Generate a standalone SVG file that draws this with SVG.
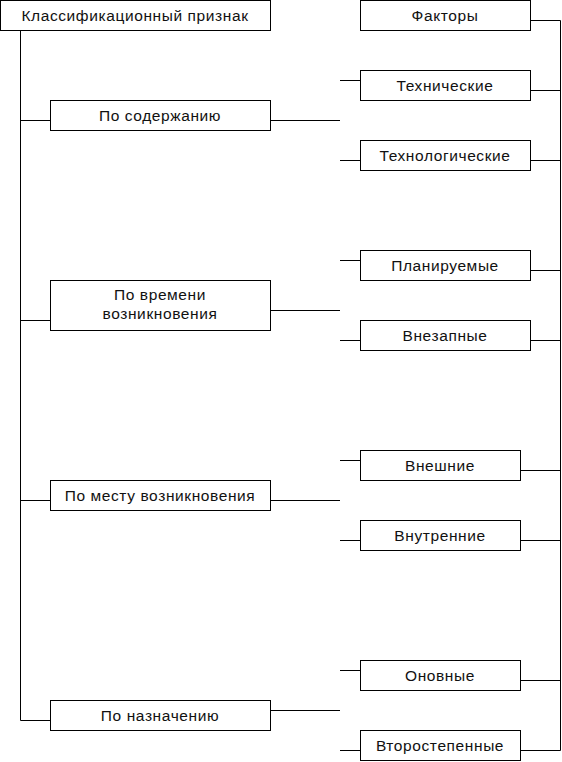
<svg xmlns="http://www.w3.org/2000/svg" width="562" height="762" viewBox="0 0 562 762">
<style>
.box{fill:#fff;stroke:#000;stroke-width:1}
.ln{fill:none;stroke:#000;stroke-width:1}
text{font-family:"Liberation Sans",Arial,sans-serif;font-size:15.5px;letter-spacing:0.6px;fill:#111;text-anchor:middle}
</style>
<rect width="562" height="762" fill="#fff"/>
<g id="connectors">
<polyline class="ln" points="20.5,30 20.5,720.5 50,720.5"/>
<line class="ln" x1="20" y1="120.5" x2="50" y2="120.5"/>
<line class="ln" x1="20" y1="320.5" x2="50" y2="320.5"/>
<line class="ln" x1="20" y1="500.5" x2="50" y2="500.5"/>
<line class="ln" x1="270" y1="120.5" x2="340" y2="120.5"/>
<line class="ln" x1="270" y1="310.5" x2="340" y2="310.5"/>
<line class="ln" x1="270" y1="500.5" x2="340" y2="500.5"/>
<line class="ln" x1="270" y1="710.5" x2="340" y2="710.5"/>
<line class="ln" x1="340" y1="80.5" x2="360" y2="80.5"/>
<line class="ln" x1="340" y1="160.5" x2="360" y2="160.5"/>
<line class="ln" x1="340" y1="260.5" x2="360" y2="260.5"/>
<line class="ln" x1="340" y1="340.5" x2="360" y2="340.5"/>
<line class="ln" x1="340" y1="460.5" x2="360" y2="460.5"/>
<line class="ln" x1="340" y1="540.5" x2="360" y2="540.5"/>
<line class="ln" x1="340" y1="670.5" x2="360" y2="670.5"/>
<line class="ln" x1="340" y1="750.5" x2="360" y2="750.5"/>
<polyline class="ln" points="530,20.5 560.5,20.5 560.5,750.5 520,750.5"/>
<line class="ln" x1="530" y1="90.5" x2="560" y2="90.5"/>
<line class="ln" x1="530" y1="160.5" x2="560" y2="160.5"/>
<line class="ln" x1="530" y1="270.5" x2="560" y2="270.5"/>
<line class="ln" x1="530" y1="340.5" x2="560" y2="340.5"/>
<line class="ln" x1="520" y1="470.5" x2="560" y2="470.5"/>
<line class="ln" x1="520" y1="540.5" x2="560" y2="540.5"/>
<line class="ln" x1="520" y1="680.5" x2="560" y2="680.5"/>
</g>
<g id="n-klass"><rect class="box" x="0.5" y="0.5" width="270" height="30"/><text x="135" y="21">Классификационный признак</text></g>
<g id="n-faktory"><rect class="box" x="360.5" y="0.5" width="170" height="30"/><text x="445" y="21">Факторы</text></g>
<g id="n-soderzh"><rect class="box" x="50.5" y="100.5" width="220" height="30"/><text x="160" y="121">По содержанию</text></g>
<g id="n-vremya"><rect class="box" x="50.5" y="280.5" width="220" height="50"/><text x="160" y="300">По времени</text><text x="160" y="319">возникновения</text></g>
<g id="n-mesto"><rect class="box" x="50.5" y="480.5" width="220" height="30"/><text x="160" y="501">По месту возникновения</text></g>
<g id="n-naznach"><rect class="box" x="50.5" y="700.5" width="220" height="30"/><text x="160" y="721">По назначению</text></g>
<g id="n-tehn"><rect class="box" x="360.5" y="70.5" width="170" height="30"/><text x="445" y="91">Технические</text></g>
<g id="n-tehnol"><rect class="box" x="360.5" y="140.5" width="170" height="30"/><text x="445" y="161">Технологические</text></g>
<g id="n-plan"><rect class="box" x="360.5" y="250.5" width="170" height="30"/><text x="445" y="271">Планируемые</text></g>
<g id="n-vnezap"><rect class="box" x="360.5" y="320.5" width="170" height="30"/><text x="445" y="341">Внезапные</text></g>
<g id="n-vnesh"><rect class="box" x="360.5" y="450.5" width="160" height="30"/><text x="440" y="471">Внешние</text></g>
<g id="n-vnutr"><rect class="box" x="360.5" y="520.5" width="160" height="30"/><text x="440" y="541">Внутренние</text></g>
<g id="n-osn"><rect class="box" x="360.5" y="660.5" width="160" height="30"/><text x="440" y="681">Оновные</text></g>
<g id="n-vtor"><rect class="box" x="360.5" y="730.5" width="160" height="30"/><text x="440" y="751">Второстепенные</text></g>
</svg>
